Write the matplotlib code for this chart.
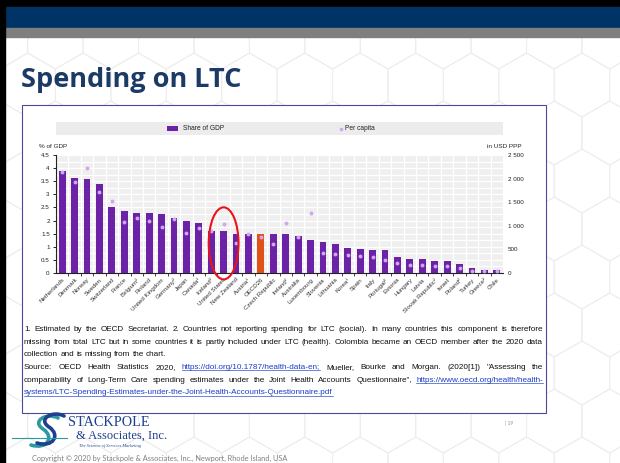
import matplotlib
matplotlib.use("Agg")
import matplotlib.pyplot as plt
from matplotlib.patches import Rectangle, Ellipse, Polygon, PathPatch
from matplotlib.path import Path
import numpy as np

# ---------------- data ----------------
countries = ["Netherlands", "Denmark", "Norway", "Sweden", "Switzerland", "France",
             "Belgium\u00b2", "Finland", "United Kingdom", "Germany\u00b2", "Japan", "Canada\u00b9",
             "Iceland\u00b2", "United States", "New Zealand", "Austria\u00b9", "OECD26", "Czech Republic",
             "Ireland\u00b2", "Australia", "Luxembourg", "Slovenia", "Lithuania", "Korea\u00b9",
             "Spain", "Italy", "Portugal\u00b2", "Estonia", "Hungary", "Latvia",
             "Slovak Republic\u00b2", "Israel", "Poland\u00b2", "Turkey", "Greece\u00b2", "Chile"]
gdp_share = [3.90, 3.64, 3.57, 3.41, 2.51, 2.37, 2.30, 2.30, 2.24, 2.09, 1.97, 1.89,
             1.60, 1.59, 1.50, 1.47, 1.50, 1.50, 1.48, 1.41, 1.26, 1.17, 1.11, 0.97,
             0.90, 0.88, 0.88, 0.62, 0.53, 0.53, 0.47, 0.47, 0.34, 0.20, 0.13, 0.10]
per_capita = [2145, 1920, 2230, 1715, 1530, 1090, 1155, 1105, 965, 1150, 850, 947,
              895, 1030, 645, 820, 755, 605, 1055, 762, 1270, 420, 395, 380,
              360, 345, 275, 210, 180, 170, 150, 150, 105, 50, 45, 40]
highlight_avg = "OECD26"
circled = "United States"
gdp_ticks = [0, 0.5, 1, 1.5, 2, 2.5, 3, 3.5, 4, 4.5]
usd_ticks = [0, 500, 1000, 1500, 2000, 2500]
usd_tick_labels = ["0", "500", "1 000", "1 500", "2 000", "2 500"]

title = "Spending on LTC"
legend_labels = ["Share of GDP", "Per capita"]
footnote_lines = [
    ([("1. Estimated by the OECD Secretariat. 2. Countries not reporting spending for LTC (social). In many countries this component is therefore", False)], True),
    ([("missing from total LTC but in some countries it is partly included under LTC (health). Colombia became an OECD member after the 2020 data", False)], True),
    ([("collection and is missing from the chart.", False)], False),
    ([("Source: OECD Health Statistics 2020,", False), ("https://doi.org/10.1787/health-data-en;", True),
      ("Mueller, Bourke and Morgan. (2020[1]) \"Assessing the", False)], True),
    ([("comparability of Long-Term Care spending estimates under the Joint Health Accounts Questionnaire\",", False),
      ("https://www.oecd.org/health/health-", True)], True),
    ([("systems/LTC-Spending-Estimates-under-the-Joint-Health-Accounts-Questionnaire.pdf", True)], False),
]

# ---------------- style ----------------
W, H = 620, 463
PURPLE = "#6b22a6"
ORANGE = "#e0521a"
MARK = "#cfa6f0"
NAVY = "#003366"
TITLE_C = "#1b3a66"
LINK = "#1a3fc8"
SANS = ["Liberation Sans", "DejaVu Sans"]

fig = plt.figure(figsize=(W / 100, H / 100), dpi=100)
fig.patch.set_facecolor("white")

bg = fig.add_axes([0, 0, 1, 1])
bg.set_xlim(0, W)
bg.set_ylim(H, 0)
bg.axis("off")
bg.set_zorder(0)

# hexagon background pattern
r = 32.0
hw = np.sqrt(3) * r
for row in range(-1, 12):
    cy = 37 + row * 1.5 * r
    off = (row % 2) * hw / 2
    for col in range(-1, 13):
        cx = col * hw + off
        ang = np.radians(90 + 60 * np.arange(6))
        pts = np.column_stack([cx + r * np.cos(ang), cy + r * np.sin(ang)])
        bg.add_patch(Polygon(pts, closed=True, fill=False, edgecolor="#ededed", lw=0.7, zorder=0))

# header bands and border
bg.add_patch(Rectangle((0, 0), W, 7, color="black", zorder=2))
bg.add_patch(Rectangle((0, 7), W, 21, color=NAVY, zorder=2))
bg.add_patch(Rectangle((0, 28), W, 9, color="#7f7f7f", zorder=2))
bg.add_patch(Rectangle((0, 0), 5, H, color="black", zorder=2))

# title
bg.text(21, 87, title, fontsize=19.5, fontweight="bold", family=["Open Sans", "DejaVu Sans"],
        color=TITLE_C, va="baseline", ha="left", zorder=3)

# chart picture box
bg.add_patch(Rectangle((22, 105), 524, 308, facecolor="white", edgecolor="#4a4a9a", lw=0.8, zorder=2))

# legend strip
PL, PR, PT, PB = 56, 503, 155, 273
bg.add_patch(Rectangle((PL, 122), PR - PL, 13, facecolor="#ececec", edgecolor="none", zorder=3))
bg.add_patch(Rectangle((167, 125.5), 11, 5, facecolor=PURPLE, edgecolor="none", zorder=4))
bg.text(183, 128.5, legend_labels[0], fontsize=4.8, family=SANS, color="#222", va="center", zorder=4)
bg.plot([341], [128.5], marker="o", ms=2.6, color=MARK, mew=0, zorder=4)
bg.text(345, 128.5, legend_labels[1], fontsize=4.8, family=SANS, color="#222", va="center", zorder=4)
bg.text(39, 147, "% of GDP", fontsize=4.6, family=SANS, color="#222", va="center", zorder=4)
bg.text(522, 147, "in USD PPP", fontsize=4.6, family=SANS, color="#222", va="center", ha="right", zorder=4)

# ---------------- chart ----------------
ax = fig.add_axes([PL / W, 1 - PB / H, (PR - PL) / W, (PB - PT) / H])
ax.set_zorder(2)
x = np.arange(len(countries))
colors = [ORANGE if c == highlight_avg else PURPLE for c in countries]
ax.bar(x, gdp_share, width=0.55, color=colors, zorder=3)
ax.set_xlim(-0.5, len(countries) - 0.5)
ax.set_ylim(0, 4.5)
ax.set_facecolor("#efefef")
ax.set_yticks(gdp_ticks)
ax.set_yticklabels([("%g" % v) for v in gdp_ticks], fontsize=4.5, family=SANS, color="#222")
ax.set_yticks(np.arange(0, 4.51, 0.25), minor=True)
ax.set_xticks(x)
ax.set_xticklabels(countries, rotation=45, ha="right", va="top", rotation_mode="anchor",
                   fontsize=4.4, family=SANS, color="#333")
ax.set_xticks(x[:-1] + 0.5, minor=True)
ax.tick_params(axis="x", which="major", length=0, pad=3)
ax.tick_params(axis="x", which="minor", length=2, width=0.6, color="#222", direction="out")
ax.tick_params(axis="y", which="major", length=2, width=0.6, pad=2.5, direction="out")
ax.tick_params(axis="y", which="minor", length=0)
ax.grid(True, which="minor", color="white", lw=0.9, zorder=0)
ax.grid(True, which="major", axis="y", color="white", lw=0.9, zorder=0)
ax.set_axisbelow(True)
for s in ["top", "right"]:
    ax.spines[s].set_visible(False)
for s in ["left", "bottom"]:
    ax.spines[s].set_color("#222")
    ax.spines[s].set_linewidth(0.8)

ax2 = ax.twinx()
ax2.set_zorder(3)
ax2.set_ylim(0, 2500)
ax2.plot(x, per_capita, linestyle="none", marker="o", ms=2.8, color=MARK, mew=0, zorder=5)
ax2.set_yticks(usd_ticks)
ax2.set_yticklabels(usd_tick_labels, fontsize=4.5, family=SANS, color="#222")
ax2.tick_params(axis="y", length=0, pad=3.6)
for s in ax2.spines.values():
    s.set_visible(False)

# red ellipse around the circled country
ci = countries.index(circled)
ax2.add_patch(Ellipse((ci, 1.13), 2.4, 2.75, transform=ax.transData, fill=False,
                      edgecolor="#e8141b", lw=1.5, clip_on=False, zorder=10))

# ---------------- footnotes ----------------
fig.canvas.draw()
renderer = fig.canvas.get_renderer()


def put_line(segments, x0, x1, y, justify, fs=5.9):
    words = []
    for txt, link in segments:
        for w in txt.split(" "):
            if w:
                words.append((w, link))
    objs = []
    for w, link in words:
        t = bg.text(0, y, w, fontsize=fs, family=SANS, color=LINK if link else "#111",
                    va="baseline", ha="left", zorder=4)
        objs.append(t)
    widths = [t.get_window_extent(renderer).width for t in objs]
    if justify and len(words) > 1:
        gap = (x1 - x0 - sum(widths)) / (len(words) - 1)
    else:
        gap = fs * 0.278 * 100 / 72
    xx = x0
    for t, wd, (w, link) in zip(objs, widths, words):
        t.set_x(xx)
        if link:
            bg.plot([xx, xx + wd], [y + 1.0, y + 1.0], color=LINK, lw=0.45, zorder=4)
        xx += wd + gap


for i, (segs, just) in enumerate(footnote_lines):
    put_line(segs, 24, 543, 331 + 12.7 * i, just)

# ---------------- logo & footer ----------------
def s_curve(dx, dy):
    verts = [(63 + dx, 417 + dy), (52 + dx, 411 + dy), (36 + dx, 420 + dy), (48 + dx, 428 + dy),
             (60 + dx, 436 + dy), (52 + dx, 449 + dy), (36 + dx, 444 + dy)]
    codes = [Path.MOVETO, Path.CURVE4, Path.CURVE4, Path.CURVE4, Path.CURVE4, Path.CURVE4, Path.CURVE4]
    return Path(verts, codes)


bg.add_patch(PathPatch(s_curve(-5, 1), fill=False, edgecolor="#2d9aa3", lw=2.6, zorder=3,
                       capstyle="round"))
bg.add_patch(PathPatch(s_curve(1, -1), fill=False, edgecolor="#1f3f8f", lw=2.6, zorder=3,
                       capstyle="round"))
bg.plot([12, 67], [438, 438], color="#2d9aa3", lw=0.8, zorder=3)
bg.text(68, 426, "STACKPOLE", fontsize=10.3, family=["Liberation Serif"], color="#1f3f8f",
        va="baseline", zorder=3)
bg.text(76, 439, "& Associates, Inc.", fontsize=9.0, family=["Liberation Serif"], color="#1f3f8f",
        va="baseline", zorder=3)
bg.text(79, 446.5, "The Science of Services Marketing", fontsize=3.2, family=["Liberation Serif"],
        style="italic", color="#1f3f8f", va="baseline", zorder=3)
bg.text(32, 458, "Copyright \u00a9 2020 by Stackpole & Associates, Inc., Newport, Rhode Island, USA",
        fontsize=5.3, family=["Lato", "DejaVu Sans"], color="#7f7f7f", va="center", zorder=3)
bg.text(505, 423, "| 19", fontsize=3.5, family=["Lato", "DejaVu Sans"], color="#8f8f8f",
        va="center", zorder=3)

fig.savefig("out.png", dpi=100, facecolor="white")
